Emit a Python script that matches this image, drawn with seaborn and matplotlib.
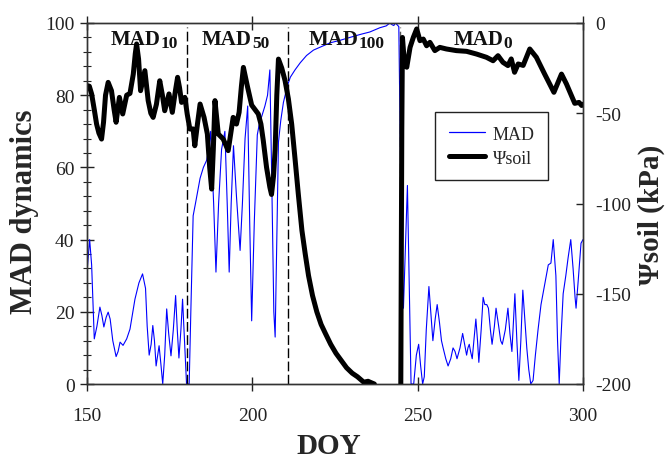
import numpy as np
import pandas as pd
import matplotlib
matplotlib.use("Agg")
import matplotlib.pyplot as plt
import seaborn as sns
from matplotlib.lines import Line2D
from matplotlib.ticker import MultipleLocator

# ---------------- data ----------------
mad_doy = [150.0, 150.8, 151.4, 152.2, 153.0, 153.9, 154.5, 155.1, 155.8, 156.4, 157.0, 157.8,
           158.8, 159.4, 160.0, 160.9, 162.0, 163.0, 164.5, 165.7, 166.8, 167.7, 168.2, 168.8,
           169.4, 169.9, 170.4, 170.9, 171.4, 171.8, 172.4, 172.9, 173.5, 174.1, 174.7, 175.4,
           176.1, 176.8, 177.3, 177.8, 178.4, 178.9, 179.5, 180.1, 180.9, 181.4, 182.1, 182.8,
           184.2, 185.2, 186.2, 186.8, 187.4, 188.3, 189.0, 189.8, 190.7, 191.7, 192.4, 193.0,
           193.6, 194.3, 195.2, 196.3, 197.0, 197.8, 198.6, 199.2, 199.8, 200.6, 201.5, 202.3,
           202.8, 203.8, 204.6, 205.3, 205.9, 206.5, 206.9, 207.4, 207.9, 208.6, 209.4, 210.6,
           211.5, 212.9, 214.5, 216.4, 218.5, 220.5, 223.5, 226.5, 229.5, 232.5, 235.5, 238.6,
           240.5, 241.6, 242.3, 242.8, 243.2, 243.8, 244.3, 245.1, 245.7, 246.2, 246.9, 247.5,
           248.0, 248.8, 249.6, 250.3, 250.9, 251.5, 252.0, 252.6, 253.4, 254.1, 254.6, 255.3,
           255.9, 256.6, 257.2, 257.7, 258.5, 259.2, 260.0, 260.7, 261.3, 261.9, 262.8, 263.6,
           264.2, 264.8, 265.2, 265.6, 266.0, 266.5, 267.0, 267.6, 268.1, 268.5, 269.2, 269.8,
           270.3, 270.9, 271.4, 272.0, 272.5, 273.2, 273.7, 274.5, 275.1, 275.6, 276.5, 277.3,
           277.9, 278.5, 279.0, 279.4, 280.0, 280.6, 281.2, 281.8, 282.4, 283.0, 283.6, 284.2,
           284.9, 285.6, 286.4, 287.3, 288.5, 289.5, 290.3, 291.0, 291.4, 291.8, 292.3, 292.8,
           293.3, 294.0, 294.8, 295.5, 296.3, 297.0, 297.6, 297.9, 298.5, 299.4, 300.0]
mad_values = [31, 40, 33, 12.5, 16, 21.3, 19, 15.8, 18.5, 19.9, 18, 12,
              7.6, 9, 11.6, 10.7, 12.5, 15.2, 23.5, 28, 30.5, 26.5, 16, 8,
              11, 16.2, 12, 5, 8, 10.6, 5, 0, 8, 20.8, 14, 7.8,
              15, 24.5, 15, 7.2, 15, 23.5, 12, 0, 0, 20, 46.6, 50,
              57, 60, 62, 65, 70, 50, 31, 50, 65, 70, 50, 31,
              50, 66, 52, 37, 50, 68, 77, 45, 17.5, 45, 69, 73,
              74, 77, 80, 87, 55, 20, 13, 40, 67, 73, 78, 82.6,
              85, 87, 89, 91, 92.5, 93.3, 94.5, 95.2, 96, 96.8, 97.5, 98.7,
              99.2, 100, 99.5, 99.3, 100, 99.5, 99, 40, 21, 35, 55, 25,
              0, 0, 8, 11, 5, 0, 2, 15, 27, 18, 12, 18,
              22, 17, 12, 10, 7, 5, 7, 10, 9, 7, 10, 14,
              11, 8, 10, 11, 9, 7, 12, 18, 12, 6, 15, 24,
              22, 22, 21, 15, 11, 16, 21, 16, 12, 11, 15, 21,
              14, 9, 18, 25, 12, 1, 12, 26, 18, 10, 4, 0,
              1, 8, 15, 22, 28, 33, 33.5, 40, 35, 30, 12, 0,
              12, 25, 30, 35, 40, 32, 24, 21, 28, 39, 40]

psi_doy = [150.0, 150.7, 151.4, 152.2, 152.9, 153.6, 154.4, 155.0, 155.6, 156.4, 157.4, 158.2,
           158.8, 159.8, 160.8, 162.0, 163.0, 164.0, 164.6, 165.0, 165.6, 166.2, 167.5, 168.5,
           169.3, 170.0, 171.0, 172.0, 172.8, 173.5, 174.8, 175.8, 176.7, 177.4, 178.0, 178.6,
           179.6, 180.3, 181.1, 182.1, 182.6, 183.4, 184.2, 185.4, 186.4, 187.1, 187.7, 188.2,
           188.7, 189.7, 191.2, 192.7, 194.2, 195.2, 196.0, 196.7, 197.3, 198.5, 199.8, 201.8,
           202.6, 203.3, 204.3, 205.3, 205.8, 206.4, 206.9, 207.4, 207.9, 208.9, 209.9, 210.9,
           211.9, 212.9, 213.9, 215.0, 216.0, 217.0, 218.2, 219.5, 220.8, 222.1, 223.7, 225.3,
           226.9, 228.5, 230.2, 231.8, 233.7, 235.0, 235.6, 236.9,
           244.9, 245.2, 245.4, 245.9, 246.7, 247.7, 248.7, 249.7, 250.7, 251.7, 252.7, 253.7,
           255.2, 256.7, 258.7, 261.7, 264.8, 267.8, 270.8, 272.8, 274.3, 275.8, 277.3, 278.3,
           279.3, 280.4, 281.9, 283.9, 285.9, 288.4, 291.2, 293.5, 295.0, 297.5, 298.8, 299.6,
           300.0]
psi_values = [-34.7, -35, -39.3, -48, -56, -61, -64.3, -55, -40, -32.9, -37.5, -48,
              -55, -41.2, -50.4, -40, -39, -28.3, -17, -11.6, -20, -37.5, -26.4, -43,
              -50, -52.3, -45, -32, -40, -48.6, -39.3, -49.5, -38, -30.1, -36, -44,
              -41.2, -50.4, -58.7, -58.7, -68, -56, -44.9, -52.3, -61.5, -80, -92, -70,
              -43, -61.5, -64.3, -70.7, -52.3, -56, -49.5, -35, -24.6, -35, -45.5, -50.4,
              -56, -65, -80, -91, -95, -85, -70, -40, -20, -25, -32, -42,
              -56, -75, -94.7, -115, -128, -140, -151, -160, -167, -172, -178, -183,
              -187, -191, -194, -196, -199, -198.5, -199, -200,
              -200, -60, -8, -20, -24.5, -13.5, -7.9, -3.3, -9.8, -8.9, -12.6, -10.7,
              -15.3, -13.5, -14.4, -15.3, -15.7, -17.2, -19, -20.9, -18.1, -21.8, -23.6, -19.9,
              -27.3, -22.7, -23.5, -14.4, -19, -28.3, -38.4, -28.3, -33.8, -44.5, -44, -45.7,
              -45]

phase_bounds = [180.3, 210.8, 244.7]
phase_main = ["MAD", "MAD", "MAD", "MAD"]
phase_sub = ["10", "50", "100", "0"]
phase_label_x = [157.0, 184.7, 216.9, 260.8]

x_ticks = [150, 200, 250, 300]
left_ticks = [0, 20, 40, 60, 80, 100]
right_ticks = [-200, -150, -100, -50, 0]

# ---------------- style ----------------
sns.set_theme(style="white")
plt.rcParams["font.family"] = ["Liberation Serif", "DejaVu Serif"]
plt.rcParams["axes.unicode_minus"] = False

fig = plt.figure(figsize=(6.65, 4.6), dpi=100)
ax = fig.add_axes([87 / 665, 1 - 385 / 460, 496 / 665, 361 / 460])
ax2 = ax.twinx()

mad_df = pd.DataFrame({"DOY": mad_doy, "MAD": mad_values})
psi_arr = np.array(psi_doy)
seg = np.concatenate([[0], np.cumsum(np.diff(psi_arr) > 5)])
psi_df = pd.DataFrame({"DOY": psi_doy, "psi": psi_values, "seg": seg})

sns.lineplot(data=mad_df, x="DOY", y="MAD", ax=ax, color="#0000ff",
             linewidth=0.8, estimator=None, sort=False)
sns.lineplot(data=psi_df, x="DOY", y="psi", units="seg", estimator=None, ax=ax2,
             color="black", linewidth=3.6, sort=False)

for i, xb in enumerate(phase_bounds):
    ax.plot([xb, xb], [0, 99], color="black" if i < 2 else "#555555",
            linewidth=1.0, dashes=(7, 2.5))

for main, sub, xl in zip(phase_main, phase_sub, phase_label_x):
    t = ax.text(xl, 94.2, main, ha="left", va="baseline", fontsize=15,
                fontweight="bold", color="#111111")
    ax.annotate(sub, xy=(1, 0), xycoords=t, xytext=(0.3, -1.5),
                textcoords="offset points", ha="left", va="bottom",
                fontsize=12.5, fontweight="bold", color="#111111")

ax.set_xlim(150, 300)
ax.set_ylim(0, 100)
ax2.set_ylim(-200, 0)
ax.set_xticks(x_ticks)
ax.set_yticks(left_ticks)
ax.yaxis.set_minor_locator(MultipleLocator(4))
ax2.set_yticks(right_ticks)

ax.tick_params(axis="x", which="major", direction="inout", length=10, width=1,
               top=True, bottom=True, labelsize=14, pad=11.5, colors="#222222")
ax.tick_params(axis="y", which="major", direction="inout", length=10, width=1,
               left=True, right=False, labelsize=14, pad=4, colors="#222222")
ax.tick_params(axis="y", which="minor", direction="inout", length=6, width=0.8,
               left=True, right=False, colors="#222222")
ax2.tick_params(axis="y", which="major", direction="in", length=5, width=1,
                right=True, left=False, labelsize=14, pad=9, colors="#222222")

for a in (ax, ax2):
    for s in a.spines.values():
        s.set_color("#333333")
        s.set_linewidth(1.0)

ax.set_xlabel("DOY", fontsize=21, fontweight="bold")
ax.set_ylabel("MAD dynamics", fontsize=22, fontweight="bold")
ax2.set_ylabel("Ψsoil (kPa)", fontsize=21, fontweight="bold")
for lab in (ax.xaxis.label, ax.yaxis.label, ax2.yaxis.label):
    lab.set_ha("center")
    lab.set_va("center")
ax.xaxis.set_label_coords((328.5 - 87) / 496, (385 - 447) / 361)
ax.yaxis.set_label_coords((25 - 87) / 496, (385 - 212) / 361)
ax2.yaxis.set_label_coords((651 - 87) / 496, (385 - 215) / 361)

handles = [Line2D([0], [0], color="#0000ff", linewidth=0.9),
           Line2D([0], [0], color="black", linewidth=3.6)]
leg = ax2.legend(handles, ["MAD", "Ψsoil"], loc="upper left",
                 bbox_to_anchor=(435 / 665, 1 - 113 / 460), bbox_transform=fig.transFigure,
                 fontsize=13, frameon=True, fancybox=False, framealpha=1,
                 edgecolor="#222222", borderpad=0.75, labelspacing=0.4,
                 handlelength=2.0, handletextpad=0.45, borderaxespad=0)
leg.get_frame().set_linewidth(1.0)

fig.savefig("out.png", dpi=100)
